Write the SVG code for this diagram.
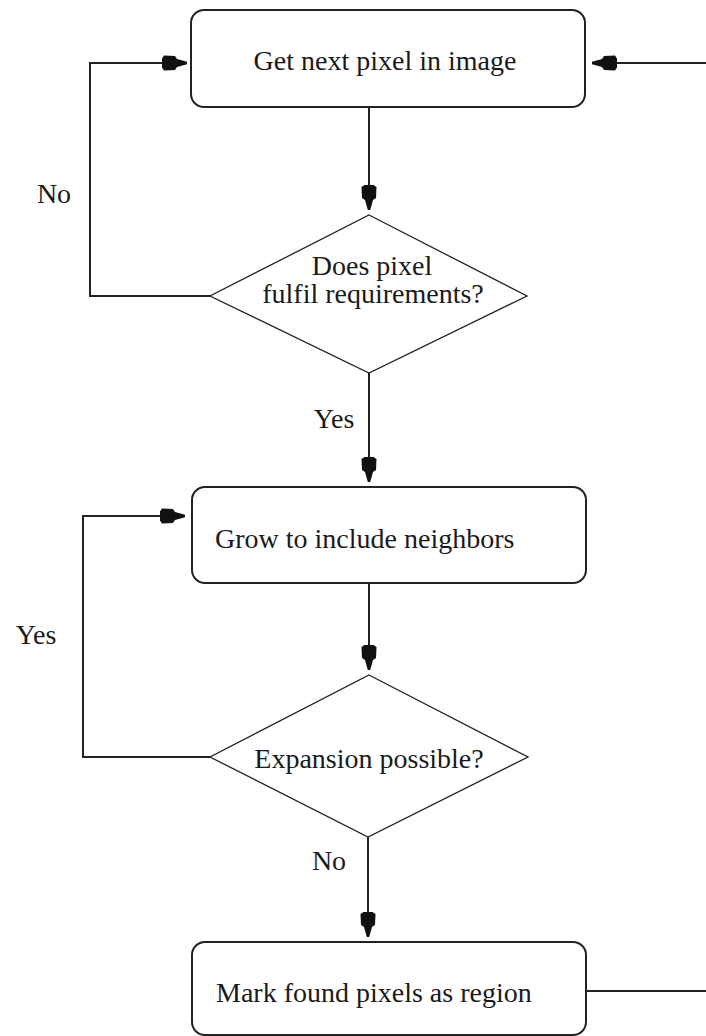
<svg xmlns="http://www.w3.org/2000/svg" width="706" height="1036" viewBox="0 0 706 1036">
<style>
.bg{fill:#fff}
.box{fill:#fff;stroke:#222;stroke-width:2}
.dia{fill:#fff;stroke:#222;stroke-width:1.3}
.con{fill:none;stroke:#222;stroke-width:2}
text{font-family:"Liberation Serif","Times New Roman",serif;font-size:28px;fill:#1a1a1a}
.c{text-anchor:middle}
</style>
<defs>
<marker id="arr" markerUnits="userSpaceOnUse" viewBox="0 -9 26 18" refX="25" refY="0" markerWidth="26" markerHeight="18" orient="auto">
<path d="M0,-4.5 L2,-7.5 L13,-7 L15,-4 L25,-1.2 L25,1.2 L15,4 L13,7 L2,7.5 L0,4.5 Z" fill="#111"/>
</marker>
</defs>
<rect class="bg" x="0" y="0" width="706" height="1036"/>
<g id="connectors">
<path class="con" d="M369,107 V210" marker-end="url(#arr)"/>
<path class="con" d="M210,296 H90 V63 H187" marker-end="url(#arr)"/>
<path class="con" d="M369,373 V482" marker-end="url(#arr)"/>
<path class="con" d="M369,583 V670" marker-end="url(#arr)"/>
<path class="con" d="M210,757 H83 V516 H185" marker-end="url(#arr)"/>
<path class="con" d="M368,837 V937" marker-end="url(#arr)"/>
<path class="con" d="M586,991 H714 V63 H592" marker-end="url(#arr)"/>
<text x="54" y="203" class="c">No</text>
<text x="334" y="428" class="c">Yes</text>
<text x="36" y="644" class="c">Yes</text>
<text x="329" y="870" class="c">No</text>
</g>
<g id="n1">
<rect class="box" x="191" y="10" width="394" height="97" rx="13"/>
<text x="385" y="70" class="c">Get next pixel in image</text>
</g>
<g id="n2">
<polygon class="dia" points="369,215 527,296 369,373 210,296"/>
<text x="372" y="275" class="c">Does pixel</text>
<text x="373" y="303" class="c">fulfil requirements?</text>
</g>
<g id="n3">
<rect class="box" x="192" y="487" width="394" height="96" rx="13"/>
<text x="215" y="548">Grow to include neighbors</text>
</g>
<g id="n4">
<polygon class="dia" points="369,675 528,757 368,837 210,757"/>
<text x="369" y="768" class="c">Expansion possible?</text>
</g>
<g id="n5">
<rect class="box" x="192" y="942" width="394" height="93" rx="13"/>
<text x="216" y="1002">Mark found pixels as region</text>
</g>
</svg>
